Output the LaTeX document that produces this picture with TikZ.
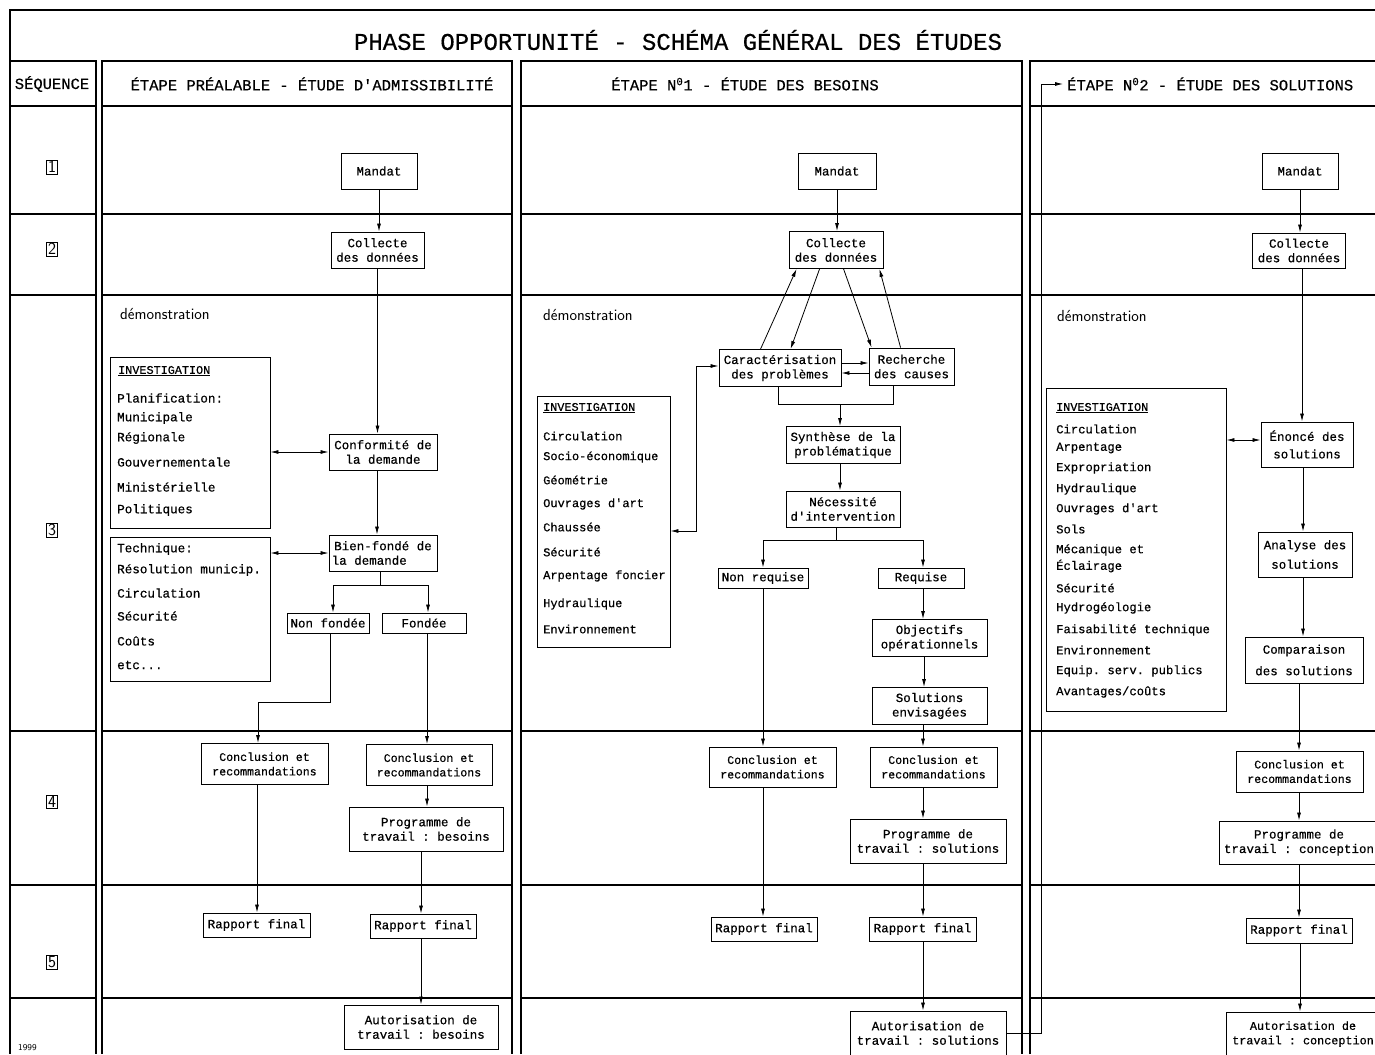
\documentclass[tikz,border=0pt]{standalone}
\usepackage{fontspec}
\setmonofont{Liberation Mono}[FakeBold=0.5]
\usetikzlibrary{arrows.meta}
\newcommand\bxf{\ttfamily\fontsize{12.5}{14.5}\selectfont}
\newcommand\smf{\ttfamily\fontsize{11.6}{14.5}\selectfont}
\newcommand\lstf{\ttfamily\fontsize{12.6}{14}\selectfont}
\newcommand\hdf{\ttfamily\fontsize{15.5}{18}\selectfont}
\newcommand\ttlf{\ttfamily\fontsize{24}{28}\selectfont}
\newcommand\demf{\sffamily\fontsize{16}{18}\selectfont}
\begin{document}
\begin{tikzpicture}[x=1pt,y=-1pt,
  box/.style={draw,line width=0.9pt,inner sep=0pt,align=center,font=\bxf},
  arr/.style={line width=0.8pt,-{Latex[length=8pt,width=4pt]}},
  darr/.style={line width=0.8pt,{Latex[length=8pt,width=4pt]}-{Latex[length=8pt,width=4pt]}},
  ln/.style={line width=0.8pt},
  frm/.style={line width=1.1pt},
  lst/.style={anchor=west,inner sep=0pt,font=\lstf},
  seqn/.style={draw,line width=0.7pt,inner sep=1.2pt,font=\sffamily\fontsize{17}{17}\selectfont},
  dem/.style={anchor=west,inner sep=0pt,font=\demf}]
\useasboundingbox (0,0) rectangle (1375,1054);
% ---------- frame ----------
\draw[frm] (1375,10) -- (10,10) -- (10,1054);
\draw[frm] (10,61) -- (96,61) -- (96,1054);
\draw[frm] (102,1054) -- (102,61) -- (512,61) -- (512,1054);
\draw[frm] (521,1054) -- (521,61) -- (1022,61) -- (1022,1054);
\draw[frm] (1030,1054) -- (1030,61) -- (1375,61);
\foreach \y in {106,214,295,731,885,998}{
  \draw[frm] (10,\y) -- (96,\y);
  \draw[frm] (102,\y) -- (512,\y);
  \draw[frm] (521,\y) -- (1022,\y);
  \draw[frm] (1030,\y) -- (1375,\y);
}
% ---------- titles ----------
\node[font=\ttlf] (title) at (678,40) {PHASE OPPORTUNITÉ - SCHÉMA GÉNÉRAL DES ÉTUDES};
\node[font=\hdf] (hseq) at (52,84) {SÉQUENCE};
\node[font=\hdf] (h1) at (312,84) {ÉTAPE PRÉALABLE - ÉTUDE D'ADMISSIBILITÉ};
\node[font=\hdf] (h2) at (745,84) {ÉTAPE N\textsuperscript{0}1 - ÉTUDE DES BESOINS};
\node[font=\hdf,anchor=west,inner sep=0pt] (h3) at (1067,84) {ÉTAPE N\textsuperscript{0}2 - ÉTUDE DES SOLUTIONS};
% ---------- sequence numbers ----------
\node[seqn] (s1) at (52,167) {1};
\node[seqn] (s2) at (52,249) {2};
\node[seqn] (s3) at (52,530) {3};
\node[seqn] (s4) at (52,802) {4};
\node[seqn] (s5) at (52,962) {5};
\node[anchor=west,inner sep=0pt,font=\sffamily\fontsize{9}{10}\selectfont] (yr) at (18,1048) {1999};
% ---------- démonstration ----------
\node[dem] (d1) at (120,314) {démonstration};
\node[dem] (d2) at (543,315) {démonstration};
\node[dem] (d3) at (1057,316) {démonstration};
% ================= COLUMN 1 =================
\node[box,minimum width=76,minimum height=36] (m1) at (379,171) {Mandat};
\node[box,minimum width=93,minimum height=36] (c1) at (377.5,250) {Collecte\\des données};
\node[box,minimum width=108,minimum height=36] (conf1) at (383,452) {Conformité de\\la demande};
\node[box,minimum width=108,minimum height=36] (bf1) at (383,553) {Bien-fondé de\\la demande\hspace*{2.2em}};
\node[box,minimum width=82,minimum height=20] (nf1) at (328,623) {Non fondée};
\node[box,minimum width=84,minimum height=20] (f1) at (424,623) {Fondée};
\node[box,font=\smf,minimum width=127,minimum height=41] (cr1a) at (264.5,764) {Conclusion et\\recommandations};
\node[box,font=\smf,minimum width=126,minimum height=41] (cr1b) at (429,765) {Conclusion et\\recommandations};
\node[box,minimum width=154,minimum height=44] (pg1) at (426,829) {Programme de\\travail : besoins};
\node[box,minimum width=107,minimum height=24] (rf1a) at (256.5,925) {Rapport final};
\node[box,minimum width=106,minimum height=24] (rf1b) at (423,926) {Rapport final};
\node[box,minimum width=154,minimum height=44] (au1) at (421,1027) {Autorisation de\\travail : besoins};
\node[draw,line width=0.9pt,minimum width=160,minimum height=171,inner sep=0pt] (inv1a) at (190,442.5) {};
\node[draw,line width=0.9pt,minimum width=160,minimum height=144,inner sep=0pt] (inv1b) at (190,609) {};
\node[lst,font=\ttfamily\fontsize{11.8}{14}\selectfont] (i1h) at (118,371) {\underline{INVESTIGATION}};
\foreach \t/\y [count=\i] in {Planification:/398,Municipale/418,Régionale/438,Gouvernementale/462,Ministérielle/487,Politiques/510}
  \node[lst] (i1a\i) at (117,\y) {\t};
\foreach \t/\y [count=\i] in {Technique:/549,Résolution municip./570,Circulation/593,Sécurité/616,Coûts/641}
  \node[lst] (i1b\i) at (117,\y) {\t};
\node[lst] (i1b6) at (117,665) {etc...};
% connectors col 1
\draw[arr] (m1.south) -- (m1.south |- c1.north);
\draw[arr] (c1.south) -- (c1.south |- conf1.north);
\draw[arr] (377,0 |- conf1.south) -- (377,0 |- bf1.north);
\coordinate (j1) at (380,585);
\draw[ln] (380,0 |- bf1.south) -- (j1);
\draw[arr] (j1) -- (333,585) -- (333,0 |- nf1.north);
\draw[arr] (j1) -- (428,585) -- (428,0 |- f1.north);
\draw[arr] (330,0 |- nf1.south) -- (330,702) -- (258,702) -- (258,0 |- cr1a.north);
\draw[arr] (427,0 |- f1.south) -- (427,0 |- cr1b.north);
\draw[arr] (257,0 |- cr1a.south) -- (257,0 |- rf1a.north);
\draw[arr] (427,0 |- cr1b.south) -- (427,0 |- pg1.north);
\draw[arr] (421,0 |- pg1.south) -- (421,0 |- rf1b.north);
\draw[arr] (421,0 |- rf1b.south) -- (421,0 |- au1.north);
\draw[darr] (inv1a.east |- conf1.west) -- (conf1.west);
\draw[darr] (inv1b.east |- bf1.west) -- (bf1.west);
% ================= COLUMN 2 =================
\node[box,minimum width=78,minimum height=36] (m2) at (837,171) {Mandat};
\node[box,minimum width=94,minimum height=37] (c2) at (836,250) {Collecte\\des données};
\node[box,minimum width=122,minimum height=37] (car2) at (780,368) {Caractérisation\\des problèmes};
\node[box,minimum width=85,minimum height=37] (rech2) at (911.5,366.5) {Recherche\\des causes};
\node[box,minimum width=114,minimum height=37] (syn2) at (843,445) {Synthèse de la\\problématique};
\node[box,minimum width=114,minimum height=36] (nec2) at (843,509) {Nécessité\\d'intervention};
\node[box,minimum width=90,minimum height=20] (nr2) at (763,578) {Non requise};
\node[box,minimum width=86,minimum height=20] (rq2) at (921,578) {Requise};
\node[box,minimum width=115,minimum height=37] (obj2) at (929.5,638) {Objectifs\\opérationnels};
\node[box,minimum width=115,minimum height=37] (sol2) at (929.5,706) {Solutions\\envisagées};
\node[box,font=\smf,minimum width=127,minimum height=40] (cr2a) at (772.5,767) {Conclusion et\\recommandations};
\node[box,font=\smf,minimum width=127,minimum height=40] (cr2b) at (933.5,767) {Conclusion et\\recommandations};
\node[box,minimum width=156,minimum height=44] (pg2) at (928,841) {Programme de\\travail : solutions};
\node[box,minimum width=106,minimum height=24] (rf2a) at (764,929) {Rapport final};
\node[box,minimum width=107,minimum height=24] (rf2b) at (922.5,929) {Rapport final};
\node[box,minimum width=156,minimum height=44] (au2) at (928,1033) {Autorisation de\\travail : solutions};
\node[draw,line width=0.9pt,minimum width=133,minimum height=251,inner sep=0pt] (inv2) at (603.5,521.5) {};
\node[lst,font=\ttfamily\fontsize{11.8}{14}\selectfont] (i2h) at (543,408) {\underline{INVESTIGATION}};
\foreach \t/\y [count=\i] in {Circulation/436,Socio-économique/457,Géométrie/480,Ouvrages d'art/504,Chaussée/527,Sécurité/552,Arpentage foncier/576,Hydraulique/604,Environnement/629}
  \node[lst,font=\ttfamily\fontsize{12}{14}\selectfont] (i2\i) at (543,\y) {\t};
% connectors col 2
\draw[arr] (m2.south) -- (m2.south |- c2.north);
\draw[arr] ([xshift=42]car2.north west) -- ([xshift=8]c2.south west);
\draw[arr] ([xshift=31]c2.south west) -- ([xshift=72]car2.north west);
\draw[arr] ([xshift=55]c2.south west) -- ([xshift=3]rech2.north west);
\draw[arr] ([xshift=32]rech2.north west) -- ([xshift=-4]c2.south east);
\draw[arr] (car2.east |- 0,363) -- (rech2.west |- 0,363);
\draw[arr] (rech2.west |- 0,373) -- (car2.east |- 0,373);
\coordinate (j2) at (840,404);
\draw[ln] (778,0 |- car2.south) -- (778,404) -- (893,404) -- (893,0 |- rech2.south);
\draw[arr] (j2) -- (j2 |- syn2.north);
\draw[arr] (840,0 |- syn2.south) -- (840,0 |- nec2.north);
\coordinate (j3) at (836,540);
\draw[ln] (836,0 |- nec2.south) -- (j3);
\draw[arr] (j3) -- (763,540) -- (763,0 |- nr2.north);
\draw[arr] (j3) -- (923,540) -- (923,0 |- rq2.north);
\draw[arr] (923,0 |- rq2.south) -- (923,0 |- obj2.north);
\draw[arr] (924,0 |- obj2.south) -- (924,0 |- sol2.north);
\draw[arr] (763,0 |- nr2.south) -- (763,0 |- cr2a.north);
\draw[arr] (923,0 |- sol2.south) -- (923,0 |- cr2b.north);
\draw[arr] (763,0 |- cr2a.south) -- (763,0 |- rf2a.north);
\draw[arr] (923,0 |- cr2b.south) -- (923,0 |- pg2.north);
\draw[arr] (923,0 |- pg2.south) -- (923,0 |- rf2b.north);
\draw[arr] (923,0 |- rf2b.south) -- (923,0 |- au2.north);
\draw[darr] (inv2.east |- 0,531) -- (696,531) -- (696,366) -- (car2.west |- 0,366);
\draw[arr] (au2.east) -- (1041,0 |- au2.east) -- (1041,84) -- ([xshift=-4]h3.west);
% ================= COLUMN 3 =================
\node[box,minimum width=76,minimum height=36] (m3) at (1300,171) {Mandat};
\node[box,minimum width=93,minimum height=35] (c3) at (1299,250.5) {Collecte\\des données};
\node[box,minimum width=92,minimum height=45] (en3) at (1307,444.5) {Énoncé des\\[3pt]solutions};
\node[box,minimum width=94,minimum height=45] (an3) at (1305,554.5) {Analyse des\\[5pt]solutions};
\node[box,minimum width=118,minimum height=46] (cp3) at (1304,660) {Comparaison\\[7pt]des solutions};
\node[box,font=\smf,minimum width=127,minimum height=41] (cr3) at (1299.5,771.5) {Conclusion et\\recommandations};
\node[box,minimum width=160,minimum height=43] (pg3) at (1299,842.5) {Programme de\\travail : conception};
\node[box,minimum width=106,minimum height=25] (rf3) at (1299,930.5) {Rapport final};
\node[box,font=\ttfamily\fontsize{11.8}{14.5}\selectfont,minimum width=154,minimum height=44] (au3) at (1303,1034) {Autorisation de\\travail : conception};
\node[draw,line width=0.9pt,minimum width=180,minimum height=323,inner sep=0pt] (inv3) at (1136,549.5) {};
\node[lst,font=\ttfamily\fontsize{11.8}{14}\selectfont] (i3h) at (1056,408) {\underline{INVESTIGATION}};
\foreach \t/\y [count=\i] in {Circulation/429,Arpentage/448,Expropriation/468,Hydraulique/489,Ouvrages d'art/509,Sols/529,Mécanique et/550,Éclairage/566,Sécurité/588,Hydrogéologie/608,Faisabilité technique/630,Environnement/650,Equip. serv. publics/671}
  \node[lst,font=\ttfamily\fontsize{12.2}{14}\selectfont] (i3\i) at (1056,\y) {\t};
\node[lst,font=\ttfamily\fontsize{12.2}{14}\selectfont] (i314) at (1056,692) {Avantages/coûts};
% connectors col 3
\draw[arr] (m3.south) -- (m3.south |- c3.north);
\draw[arr] (1302,0 |- c3.south) -- (1302,0 |- en3.north);
\draw[arr] (1303,0 |- en3.south) -- (1303,0 |- an3.north);
\draw[arr] (1303,0 |- an3.south) -- (1303,0 |- cp3.north);
\draw[arr] (1299,0 |- cp3.south) -- (1299,0 |- cr3.north);
\draw[arr] (1299,0 |- cr3.south) -- (1299,0 |- pg3.north);
\draw[arr] (1299,0 |- pg3.south) -- (1299,0 |- rf3.north);
\draw[arr] (1300,0 |- rf3.south) -- (1300,0 |- au3.north);
\draw[darr] (inv3.east |- 0,440) -- (en3.west |- 0,440);
\end{tikzpicture}
\end{document}
